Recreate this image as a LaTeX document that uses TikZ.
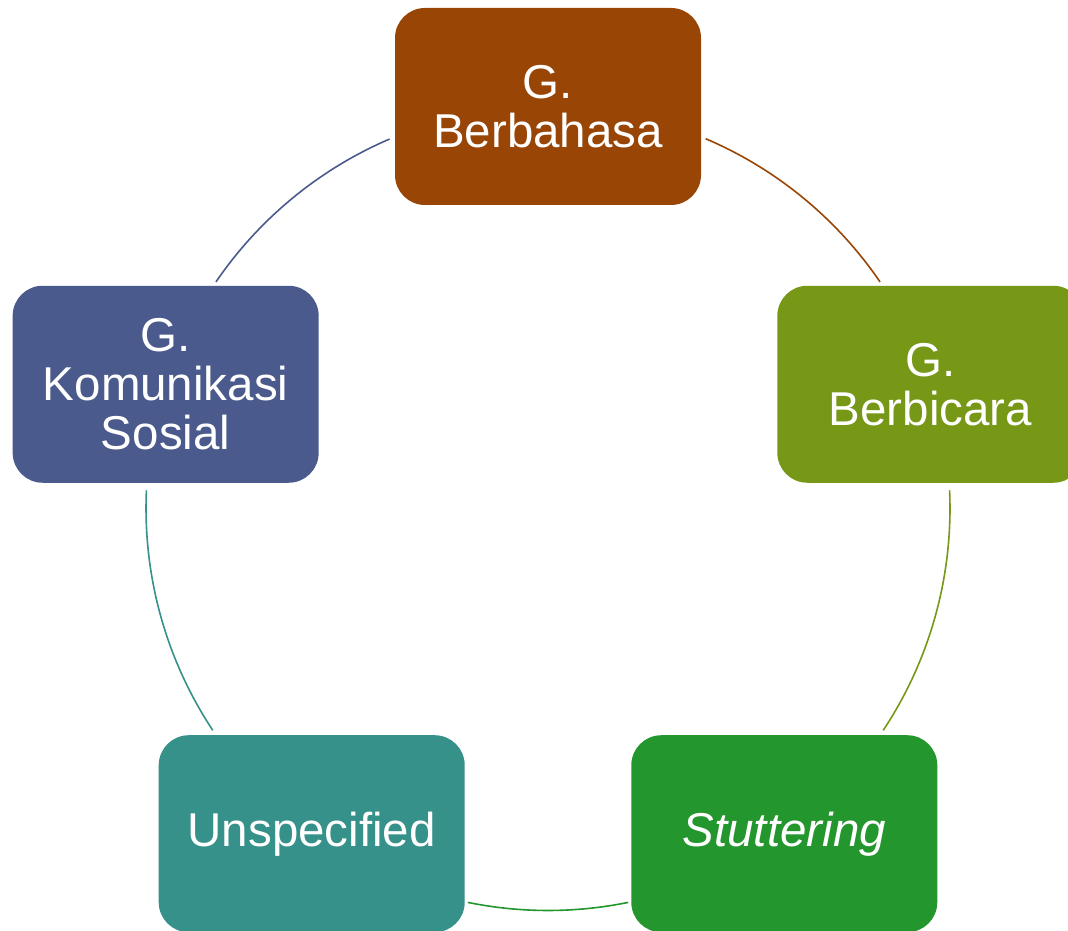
\documentclass[tikz,border=0pt]{standalone}
\usepackage{fontspec}
\setmainfont{Liberation Sans}
\definecolor{cbrown}{HTML}{984506}
\definecolor{colive}{HTML}{779717}
\definecolor{cgreen}{HTML}{24962E}
\definecolor{cteal}{HTML}{359189}
\definecolor{cblue}{HTML}{4A5A8C}
\tikzset{
  cyclebox/.style={rectangle, rounded corners=30pt, minimum width=306pt, minimum height=197pt,
    inner sep=0pt, align=center, text=white, font=\fontsize{47.5}{49}\selectfont},
  cyclearc/.style={line width=1.6pt}
}
\begin{document}
\begin{tikzpicture}[x=1pt,y=1pt]
\useasboundingbox (0,0) rectangle (1068,931);
\clip (0,0) rectangle (1068,931);
\coordinate (c) at (548,422.5);
% arc end points
\coordinate (a1s) at ([shift={(66.9:402pt)}]c);
\coordinate (a2s) at ([shift={(2.6:402pt)}]c);
\coordinate (a3s) at ([shift={(-78.5:402pt)}]c);
\coordinate (a4s) at ([shift={(213.5:402pt)}]c);
\coordinate (a5s) at ([shift={(145.7:402pt)}]c);
\draw[cyclearc, cbrown] (a1s) arc[start angle=66.9, end angle=34.3, radius=402pt];
\draw[cyclearc, colive] (a2s) arc[start angle=2.6, end angle=-33.5, radius=402pt];
\draw[cyclearc, cgreen] (a3s) arc[start angle=-78.5, end angle=-101.5, radius=402pt];
\draw[cyclearc, cteal] (a4s) arc[start angle=213.5, end angle=177.4, radius=402pt];
\draw[cyclearc, cblue] (a5s) arc[start angle=145.7, end angle=113.2, radius=402pt];
% boxes
\node[cyclebox, fill=cbrown] (top) at ([shift={(90:402pt)}]c) {G.\\Berbahasa};
\node[cyclebox, fill=colive] (right) at ([shift={(18:402pt)}]c) {G.\\Berbicara};
\node[cyclebox, fill=cgreen] (bright) at ([shift={(-54:402pt)}]c) {\itshape Stuttering};
\node[cyclebox, fill=cteal] (bleft) at ([shift={(234:402pt)}]c) {Unspecified};
\node[cyclebox, fill=cblue] (left) at ([shift={(162:402pt)}]c) {G.\\Komunikasi\\Sosial};
\end{tikzpicture}
\end{document}
